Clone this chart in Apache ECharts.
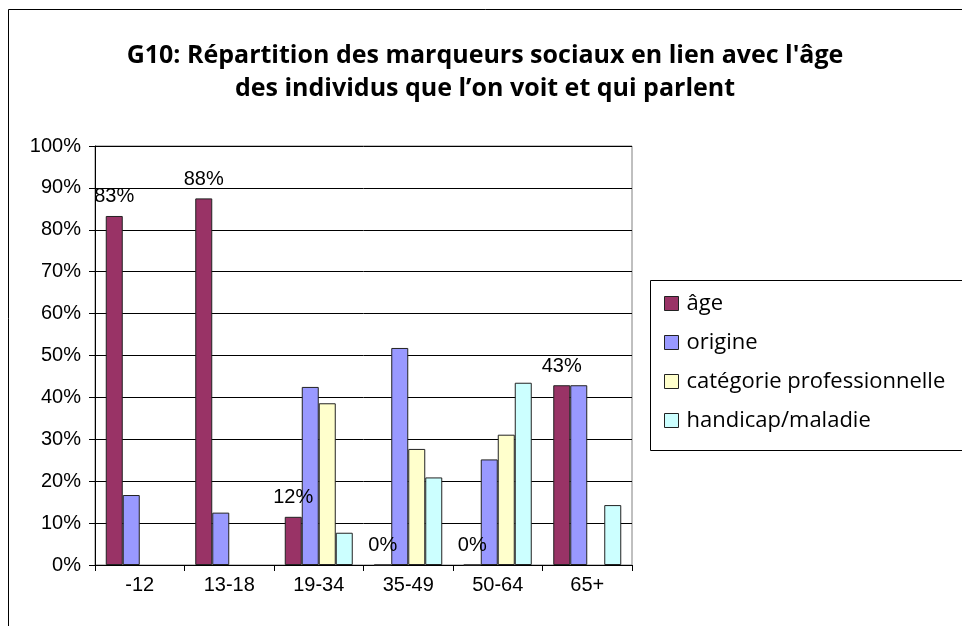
<!DOCTYPE html>
<html><head><meta charset="utf-8">
<script src="https://cdn.jsdelivr.net/npm/echarts@6/dist/echarts.min.js"></script>
<style>html,body{margin:0;padding:0;background:#fff}#c{width:962px;height:626px}</style>
</head><body><div id="c"></div>
<script>
const categories = ['-12', '13-18', '19-34', '35-49', '50-64', '65+'];
const seriesNames = ['âge', 'origine', 'catégorie professionnelle', 'handicap/maladie'];
const age = [83.3, 87.5, 11.5, 0, 0, 42.9];
const origine = [16.7, 12.5, 42.5, 51.8, 25.2, 42.9];
const categoriePro = [null, null, 38.6, 27.7, 31.1, null];
const handicap = [null, null, 7.7, 20.9, 43.5, 14.3];
const yTicks = [0, 10, 20, 30, 40, 50, 60, 70, 80, 90, 100];
const colors = ['#993366', '#9999FF', '#FFFFCC', '#CCFFFF'];
const titleText = "G10: Répartition des marqueurs sociaux en lien avec l'âge\ndes individus que l’on voit et qui parlent";

const chart = echarts.init(document.getElementById('c'));
const dataSets = [age, origine, categoriePro, handicap];
const series = dataSets.map((d, i) => ({
  name: seriesNames[i],
  type: 'bar',
  data: d,
  barWidth: 17,
  barGap: '0%',
  itemStyle: { color: colors[i], borderColor: '#222', borderWidth: 1 },
  label: i === 0 ? {
    show: true, position: 'top', distance: 9,
    fontFamily: 'Liberation Sans', fontSize: 20, color: '#000',
    formatter: p => Math.round(p.value) + '%'
  } : { show: false },
  animation: false
}));

chart.setOption({
  animation: false,
  backgroundColor: '#fff',
  title: {
    text: titleText, left: 480, top: 34, textAlign: 'center',
    textStyle: { fontFamily: 'Open Sans', fontWeight: 'bold', fontSize: 25, lineHeight: 33, color: '#000' }
  },
  legend: {
    orient: 'vertical', left: 659, top: 287,
    itemWidth: 14, itemHeight: 14, itemGap: 16,
    icon: 'rect',
    data: seriesNames.map((n, i) => ({ name: n, itemStyle: { borderColor: '#222', borderWidth: 1 } })),
    textStyle: { fontFamily: 'Open Sans', fontSize: 22, lineHeight: 23, color: '#000', padding: [0, 0, 0, 3] }
  },
  graphic: [
    { type: 'rect', shape: { x: 8.5, y: 9.5, width: 1000, height: 1000 }, style: { fill: 'none', stroke: '#000', lineWidth: 1 }, z: -1 },
    { type: 'rect', shape: { x: 650.5, y: 280.5, width: 400, height: 170 }, style: { fill: '#fff', stroke: '#000', lineWidth: 1 }, z: -1 }
  ],
  grid: { left: 95, top: 146, width: 537, height: 419, show: true, borderColor: '#808080', borderWidth: 1, backgroundColor: 'transparent' },
  xAxis: {
    type: 'category', data: categories,
    axisLine: { lineStyle: { color: '#000' } },
    axisTick: { show: true, alignWithLabel: false, length: 6, lineStyle: { color: '#000' } },
    axisLabel: { fontFamily: 'Liberation Sans', fontSize: 20, color: '#000', margin: 10 }
  },
  yAxis: {
    type: 'value', min: yTicks[0], max: yTicks[yTicks.length - 1], interval: 10,
    axisLine: { show: true, lineStyle: { color: '#000' } },
    axisTick: { show: true, length: 6, lineStyle: { color: '#000' } },
    axisLabel: { fontFamily: 'Liberation Sans', fontSize: 20, color: '#000', margin: 14, formatter: v => v + '%' },
    splitLine: { show: true, lineStyle: { color: '#000', width: 1 } }
  },
  series: series
});
</script></body></html>
